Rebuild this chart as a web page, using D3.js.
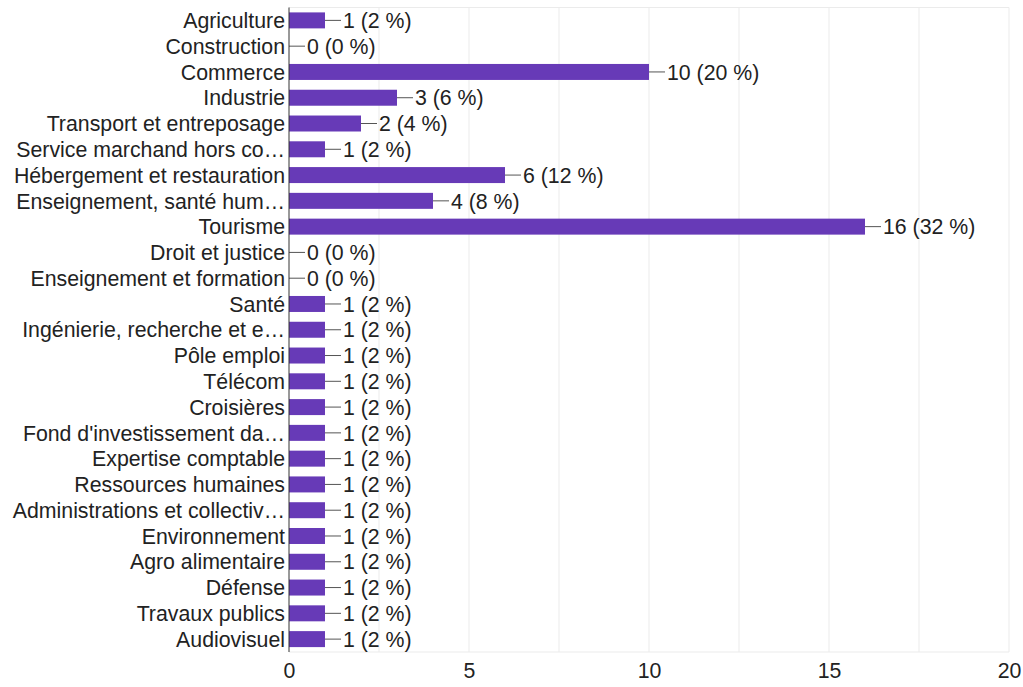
<!DOCTYPE html>
<html><head><meta charset="utf-8">
<script src="https://cdn.jsdelivr.net/npm/d3@7"></script>
<style>body{margin:0;background:#fff;} svg{display:block;font-family:"Liberation Sans",Arial,sans-serif;}</style>
</head><body><svg id="c" width="1023" height="687"></svg>
<script>
const categories = ["Agriculture","Construction","Commerce","Industrie","Transport et entreposage","Service marchand hors co…","Hébergement et restauration","Enseignement, santé hum…","Tourisme","Droit et justice","Enseignement et formation","Santé","Ingénierie, recherche et e…","Pôle emploi","Télécom","Croisières","Fond d'investissement da…","Expertise comptable","Ressources humaines","Administrations et collectiv…","Environnement","Agro alimentaire","Défense","Travaux publics","Audiovisuel"];
const values = [1,0,10,3,2,1,6,4,16,0,0,1,1,1,1,1,1,1,1,1,1,1,1,1,1];
const percents = [2,0,20,6,4,2,12,8,32,0,0,2,2,2,2,2,2,2,2,2,2,2,2,2,2];
const tickValues = [0,5,10,15,20];
const gridValues = [2.5,5,7.5,10,12.5,15,17.5,20];

const FS = 21.3;
const svg = d3.select("#c");
const x = d3.scaleLinear().domain([0,20]).range([289,1009]);
const y = d3.scaleBand().domain(categories).range([7.5,652]).paddingInner(0.38).paddingOuter(0.19);

// grid
svg.append("g").selectAll("line").data(gridValues).join("line")
  .attr("x1",d=>x(d)).attr("x2",d=>x(d)).attr("y1",7.5).attr("y2",652)
  .attr("stroke","#ebebeb").attr("stroke-width",1);
svg.append("line").attr("x1",289).attr("x2",1009).attr("y1",7.5).attr("y2",7.5).attr("stroke","#ebebeb");
svg.append("line").attr("x1",289).attr("x2",1009).attr("y1",652).attr("y2",652).attr("stroke","#ebebeb");

// bars
svg.append("g").selectAll("rect").data(values).join("rect")
  .attr("x",x(0)).attr("y",(d,i)=>y(categories[i]))
  .attr("width",d=>x(d)-x(0)).attr("height",y.bandwidth())
  .attr("fill","#673ab7");

// connectors and value labels
const lab = svg.append("g");
values.forEach((v,i)=>{
  const cy = y(categories[i]) + y.bandwidth()/2;
  lab.append("line").attr("x1",x(v)).attr("x2",x(v)+16).attr("y1",cy).attr("y2",cy)
    .attr("stroke","#555").attr("stroke-width",1);
  lab.append("text").attr("x",x(v)+18).attr("y",cy).attr("dy","0.36em")
    .attr("font-size",FS).attr("fill","#222").text(`${v} (${percents[i]} %)`);
});

// y axis
const ya = svg.append("g").attr("transform","translate(289,0)")
  .call(d3.axisLeft(y).tickSize(0).tickPadding(4));
ya.select(".domain").attr("stroke","#333").attr("d","M0,7.5V652");
ya.selectAll("text").attr("font-size",FS).attr("fill","#222").attr("dy","0.36em").attr("font-family","Liberation Sans, Arial, sans-serif");

// x axis
const xa = svg.append("g").attr("transform","translate(0,652)")
  .call(d3.axisBottom(x).tickValues(tickValues).tickSize(0).tickPadding(11));
xa.select(".domain").remove();
xa.selectAll("text").attr("font-size",FS).attr("fill","#222").attr("font-family","Liberation Sans, Arial, sans-serif");
</script></body></html>
